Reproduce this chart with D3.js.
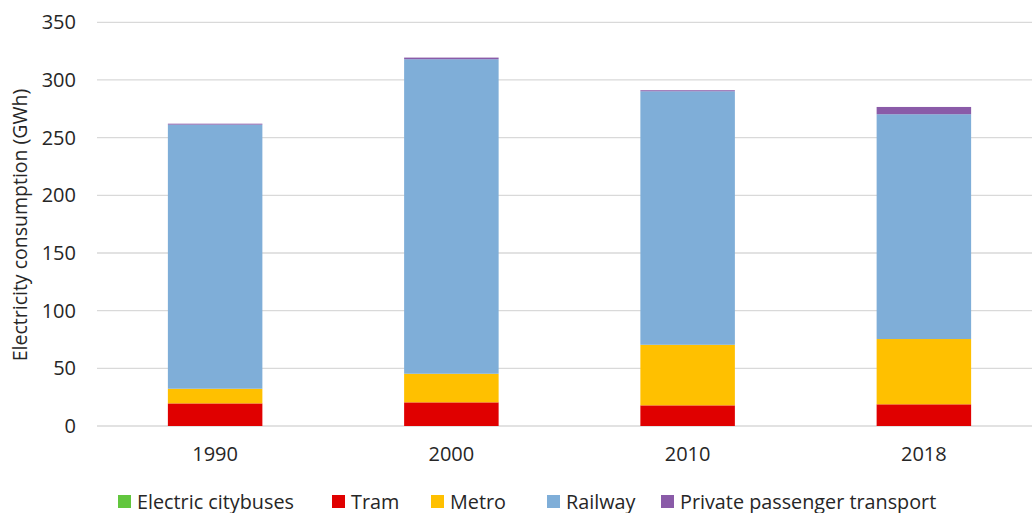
<!DOCTYPE html>
<html>
<head>
<meta charset="utf-8">
<script src="https://cdn.jsdelivr.net/npm/d3@7"></script>
<style>
  html, body { margin: 0; padding: 0; background: #fff; }
  svg { display: block; font-family: "Open Sans", "Liberation Sans", sans-serif; }
</style>
</head>
<body>
<svg id="chart" width="1032" height="513"></svg>
<script>
// Electricity consumption by transport mode (GWh)
const years = ["1990", "2000", "2010", "2018"];
const seriesNames = ["Electric citybuses", "Tram", "Metro", "Railway", "Private passenger transport"];
const electricCitybuses = [0, 0, 0, 0];
const tram = [19.6, 20.5, 17.9, 18.8];
const metro = [12.7, 24.8, 52.5, 56.6];
const railway = [229.0, 272.7, 219.8, 194.9];
const privatePassenger = [0.8, 1.4, 0.9, 6.3];
const yTicks = [0, 50, 100, 150, 200, 250, 300, 350];
const colors = ["#62c63e", "#e00000", "#ffc000", "#7faed8", "#8a5ba8"];

const seriesValues = [electricCitybuses, tram, metro, railway, privatePassenger];
const rows = years.map((y, i) => {
  const r = { year: y };
  seriesNames.forEach((s, k) => { r[s] = seriesValues[k][i]; });
  return r;
});

const svg = d3.select("#chart");
const plot = { left: 97, right: 1042, top: 22.3, bottom: 426 };

const x = d3.scaleBand()
  .domain(years)
  .range([plot.left, plot.right])
  .paddingInner(0.6)
  .paddingOuter(0.3);

const y = d3.scaleLinear()
  .domain([0, 350])
  .range([plot.bottom, plot.top]);

// horizontal gridlines
svg.append("g")
  .selectAll("line")
  .data(yTicks)
  .join("line")
  .attr("x1", plot.left)
  .attr("x2", 1032)
  .attr("y1", d => y(d))
  .attr("y2", d => y(d))
  .attr("stroke", "#d9d9d9")
  .attr("stroke-width", 1.3);

// y axis tick labels
const yAxis = d3.axisLeft(y).tickValues(yTicks).tickSize(0).tickPadding(0);
const yG = svg.append("g")
  .attr("transform", "translate(76,0)")
  .call(yAxis);
yG.select(".domain").remove();
yG.selectAll("text")
  .attr("font-family", "'Open Sans', sans-serif")
  .attr("font-size", 20)
  .attr("fill", "#262626");

// stacked bars
const stack = d3.stack().keys(seriesNames);
const layers = stack(rows);

svg.append("g")
  .selectAll("g")
  .data(layers)
  .join("g")
  .attr("fill", (d, i) => colors[i])
  .selectAll("rect")
  .data(d => d)
  .join("rect")
  .attr("x", d => x(d.data.year))
  .attr("width", x.bandwidth())
  .attr("y", d => y(d[1]))
  .attr("height", d => Math.max(0, y(d[0]) - y(d[1])));

// x axis labels
const xAxis = d3.axisBottom(x).tickSize(0).tickPadding(0);
const xG = svg.append("g")
  .attr("transform", "translate(0,447)")
  .call(xAxis);
xG.select(".domain").remove();
xG.selectAll("text")
  .attr("font-family", "'Open Sans', sans-serif")
  .attr("font-size", 20)
  .attr("fill", "#262626");

// y axis title
svg.append("text")
  .attr("transform", "translate(27,225) rotate(-90)")
  .attr("text-anchor", "middle")
  .attr("font-size", 19.5)
  .attr("fill", "#262626")
  .text("Electricity consumption (GWh)");

// legend
const legendX = [118, 332, 431, 547, 661];
const legend = svg.append("g");
const items = legend.selectAll("g")
  .data(seriesNames)
  .join("g")
  .attr("transform", (d, i) => `translate(${legendX[i]},0)`);
items.append("rect")
  .attr("x", 0)
  .attr("y", 495)
  .attr("width", 13)
  .attr("height", 13)
  .attr("fill", (d, i) => colors[i]);
items.append("text")
  .attr("x", 19)
  .attr("y", 508.5)
  .attr("font-size", 19.8)
  .attr("fill", "#262626")
  .text(d => d);
</script>
</body>
</html>
